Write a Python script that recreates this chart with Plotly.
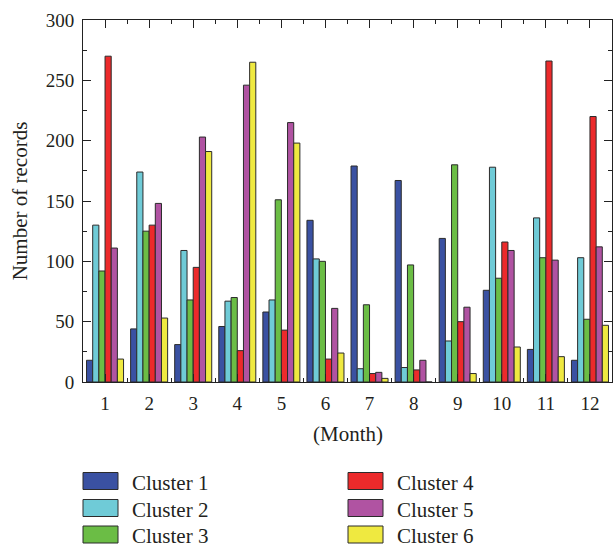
import plotly.graph_objects as go

months = [1, 2, 3, 4, 5, 6, 7, 8, 9, 10, 11, 12]
month_labels = [str(m) for m in months]
series_names = ["Cluster 1", "Cluster 2", "Cluster 3", "Cluster 4", "Cluster 5", "Cluster 6"]
cluster1 = [18, 44, 31, 46, 58, 134, 179, 167, 119, 76, 27, 18]
cluster2 = [130, 174, 109, 67, 68, 102, 11, 12, 34, 178, 136, 103]
cluster3 = [92, 125, 68, 70, 151, 100, 64, 97, 180, 86, 103, 52]
cluster4 = [270, 130, 95, 26, 43, 19, 7, 10, 50, 116, 266, 220]
cluster5 = [111, 148, 203, 246, 215, 61, 8, 18, 62, 109, 101, 112]
cluster6 = [19, 53, 191, 265, 198, 24, 3, 0, 7, 29, 21, 47]
y_ticks = [0, 50, 100, 150, 200, 250, 300]

colors = ["#3a51a2", "#6fcbd7", "#6bbd45", "#ec2a2b", "#b053a2", "#efe940"]
values = [cluster1, cluster2, cluster3, cluster4, cluster5, cluster6]

FONT = "Liberation Serif"
TXT = "#231f20"
W, H = 614, 548
L, R, T, B = 83, 2, 20, 166
PW = W - L - R
PH = H - T - B

fig = go.Figure()
for name, vals, c in zip(series_names, values, colors):
    fig.add_trace(go.Bar(x=months, y=vals, name=name, marker_color=c,
                         marker_line_color="#2b2b2b", marker_line_width=1,
                         showlegend=False))

def px_x(p):
    return (p - L) / PW

def px_y(p):
    return (H - B - p) / PH

shapes = []
annotations = []
legend_pos = [(83, 481, 483), (83, 508, 510), (83, 534.5, 536),
              (348, 481, 483), (348, 508, 510), (348, 534.5, 536)]
for (sx, sy, ty), name, c in zip(legend_pos, series_names, colors):
    shapes.append(dict(type="rect", xref="paper", yref="paper",
                       x0=px_x(sx), x1=px_x(sx + 35), y0=px_y(sy + 8.5), y1=px_y(sy - 8.5),
                       fillcolor=c, line=dict(color="#2b2b2b", width=1)))
    annotations.append(dict(xref="paper", yref="paper", x=px_x(sx + 47), y=px_y(ty),
                            text=name, showarrow=False, xanchor="left", yanchor="middle",
                            font=dict(family=FONT, size=21, color=TXT)))

annotations.append(dict(xref="paper", yref="paper", x=0.5, y=px_y(434),
                        text="(Month)", showarrow=False, xanchor="center", yanchor="middle",
                        font=dict(family=FONT, size=21, color=TXT)))

fig.update_layout(
    width=W, height=H,
    margin=dict(l=L, r=R, t=T, b=B),
    paper_bgcolor="white", plot_bgcolor="white",
    barmode="group", bargap=0.16, bargroupgap=0,
    font=dict(family=FONT, size=19, color=TXT),
    shapes=shapes, annotations=annotations,
    showlegend=False,
)
fig.update_xaxes(
    range=[0.5, 12.5], tickmode="array", tickvals=months, ticktext=month_labels,
    ticks="inside", ticklen=8, tickcolor="#222", showline=True, linecolor="#222",
    linewidth=1, mirror="ticks", showgrid=False, zeroline=False,
    tickfont=dict(family=FONT, size=19, color=TXT), ticklabelstandoff=4,
    minor=dict(tickmode="array", tickvals=[m + 0.5 for m in months[:-1]], ticks="inside", ticklen=4, tickcolor="#222"),
)
fig.update_yaxes(
    range=[0, 300], tickmode="array", tickvals=y_ticks,
    ticks="inside", ticklen=8, tickcolor="#222", showline=True, linecolor="#222",
    linewidth=1, mirror="ticks", showgrid=False, zeroline=False,
    tickfont=dict(family=FONT, size=19, color=TXT), ticklabelstandoff=4,
    minor=dict(dtick=25, ticks="inside", ticklen=4, tickcolor="#222"),
    title=dict(text="Number of records", font=dict(family=FONT, size=21, color=TXT), standoff=12),
)

fig.write_html("out.html", config={"displayModeBar": False},
               post_script="document.body.style.margin='0';document.body.style.overflow='hidden';")
